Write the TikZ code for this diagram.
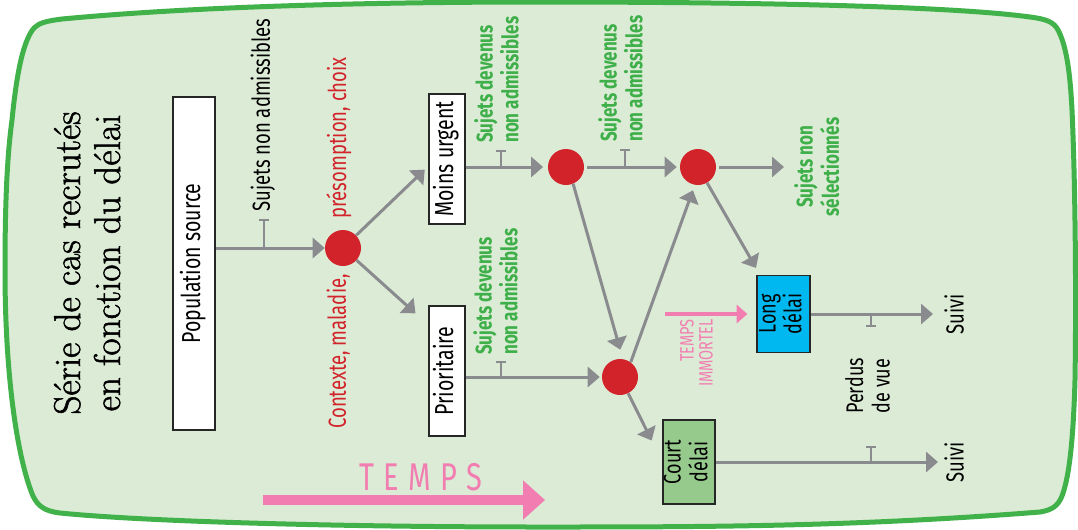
\documentclass[tikz,border=0pt]{standalone}
\usepackage{fontspec}
\usetikzlibrary{arrows.meta}
\newfontfamily\cnd[FakeStretch=0.75]{Fira Sans}
\newfontfamily\ttl[FakeBold=1.4]{Latin Modern Roman}
\definecolor{bgc}{HTML}{DCEBD6}
\definecolor{bordc}{HTML}{41B14A}
\definecolor{grayc}{HTML}{8A8B8F}
\definecolor{redc}{HTML}{D2232A}
\definecolor{greenc}{HTML}{3EAF49}
\definecolor{pinkc}{HTML}{F27DB1}
\definecolor{cyanc}{HTML}{00B8F0}
\definecolor{courtc}{HTML}{96CA8C}
\newcommand{\rotl}[2]{\rotatebox{90}{\begin{tabular}{@{}#1@{}}#2\end{tabular}}}
\tikzset{
  box/.style={draw=black!85, line width=0.9pt, fill=white, inner sep=0pt,
    font=\cnd\fontsize{19.5}{19.5}\selectfont},
  dot/.style={circle, fill=redc, minimum size=27pt, inner sep=0pt},
  arr/.style={draw=grayc, line width=2.25pt, -{Triangle[length=9pt,width=15pt]}},
  tick/.style={draw=grayc, line width=1.8pt, -{Bar[width=7pt]}},
  blbl/.style={inner sep=0pt, text=black, font=\cnd\fontsize{18.5}{18.5}\selectfont},
  rlbl/.style={inner sep=0pt, text=redc, font=\cnd\fontsize{18.5}{18.5}\selectfont},
  glbl/.style={inner sep=0pt, text=greenc, font=\cnd\bfseries\fontsize{17}{18.75}\selectfont},
  inlbl/.style={inner sep=0pt, text=black, font=\cnd\fontsize{18}{17.5}\selectfont},
}
\begin{document}
\begin{tikzpicture}[x=0.75pt,y=-0.75pt]
\useasboundingbox (0,0) rectangle (1078,529);
% frame
\draw[bordc, fill=bgc, line width=3.75pt]
  (12,120) .. controls (16,80) and (22,42) .. (34,28)
  .. controls (39,23) and (46,21) .. (62,19)
  .. controls (200,6) and (380,2) .. (540,2)
  .. controls (750,2) and (950,6) .. (1030,17)
  .. controls (1046,19) and (1054,22) .. (1058,30)
  .. controls (1066,45) and (1070,70) .. (1072,110)
  .. controls (1076,200) and (1076,320) .. (1075,380)
  .. controls (1073,450) and (1068,480) .. (1062,496)
  .. controls (1058,506) and (1052,510) .. (1040,512)
  .. controls (850,527) and (700,527) .. (540,527)
  .. controls (350,527) and (150,522) .. (60,513)
  .. controls (44,511) and (38,506) .. (33,496)
  .. controls (18,460) and (5,380) .. (5,270)
  .. controls (5,190) and (8,150) .. (12,120) -- cycle;
% title
\node[inner sep=0pt, font=\ttl\fontsize{28}{30}\selectfont] (title) at (92,263)
  {\rotl{c}{Série de cas recrutés\\en fonction du délai}};
% boxes
\node[box, minimum width=31.5pt, minimum height=249.75pt] (pop) at (194,263.5) {\rotl{c}{Population source}};
\node[box, minimum width=27pt, minimum height=97.5pt] (moins) at (447,159) {\rotl{c}{Moins urgent}};
\node[box, minimum width=27pt, minimum height=97.5pt] (prio) at (447,371) {\rotl{c}{Prioritaire}};
\node[box, fill=cyanc, minimum width=39.75pt, minimum height=57.75pt, font=\cnd\fontsize{18}{16.5}\selectfont] (long) at (783.5,314) {\rotl{c}{Long\\délai}};
\node[box, fill=courtc, minimum width=39pt, minimum height=63pt, font=\cnd\fontsize{18}{18.5}\selectfont] (court) at (689,462) {\rotl{c}{Court\\délai}};
% decision dots
\node[dot] (c1) at (343,248) {};
\node[dot] (c2) at (566,167) {};
\node[dot] (c3) at (698,167) {};
\node[dot] (c4) at (620,377) {};
% labels
\node[blbl, anchor=south] (sna) at (264,212) {\rotl{l}{Sujets non admissibles}};
\node[rlbl, anchor=south] (ctx) at (340,429) {\rotl{l}{Contexte, maladie,}};
\node[rlbl, anchor=south] (pres) at (340,219) {\rotl{l}{présomption, choix}};
\node[glbl, anchor=south] (g1) at (500,143) {\rotl{l}{Sujets devenus\\non admissibles}};
\node[glbl, anchor=south] (g2) at (624,142) {\rotl{l}{Sujets devenus\\non admissibles}};
\node[glbl, anchor=south] (g3) at (499,355) {\rotl{l}{Sujets devenus\\non admissibles}};
\node[glbl, anchor=west, font=\cnd\bfseries\fontsize{17}{18}\selectfont] (sns) at (794,167) {\rotl{c}{Sujets non\\sélectionnés}};
\node[blbl, anchor=west] (s1) at (944,314) {\rotl{c}{Suivi}};
\node[blbl, anchor=west] (s2) at (944,462) {\rotl{c}{Suivi}};
\node[inlbl, font=\cnd\fontsize{18}{20}\selectfont] (pv) at (871,386) {\rotl{c}{Perdus\\de vue}};
\node[inner sep=0pt, anchor=north, text=pinkc, font=\cnd\fontsize{14.5}{13.5}\selectfont] (ti) at (699,319) {\rotl{r}{TEMPS\\IMMORTEL}};
\node[inner sep=0pt, text=pinkc, font=\cnd\fontsize{29}{29}\selectfont] (temps) at (421,477)
  {T\hspace{7pt}E\hspace{7pt}M\hspace{7pt}P\hspace{7pt}S};
% connectors
\draw[arr] (pop.east |- c1) -- (c1);
\draw[arr, shorten >=3.75pt] (c1) -- (moins.201);
\draw[arr, shorten >=13pt] (c1) -- (prio.112);
\draw[arr, shorten >=3.5pt] (moins.east |- c2) -- (c2);
\draw[arr, shorten >=2.25pt, shorten <=2pt] (c2) -- (c3);
\draw[arr, shorten >=7.5pt, shorten <=2pt] (c3) -- (sns.west);
\draw[arr, shorten >=6pt] (c3) -- (long.121);
\draw[arr, shorten >=7.2pt] (c2.-67.6) -- (c4.81.7);
\draw[arr, shorten >=4.2pt] (c4.54.8) -- (c3.260);
\draw[arr, shorten >=1.5pt] (prio.east |- c4) -- (c4);
\draw[arr, shorten >=18pt] (c4) -- (court.west);
\draw[arr, shorten >=8.25pt] (long.east) -- (s1.west);
\draw[arr, shorten >=4.5pt] (court.east) -- (s2.west);
% losses
\draw[tick] (264,248) -- (264,219);
\draw[tick] (501,167) -- (501,150);
\draw[tick] (625,167) -- (625,149);
\draw[tick] (501,378) -- (501,361);
\draw[tick] (871,314) -- (871,327);
\draw[tick] (871,462) -- (871,446);
% time arrows
\coordinate (tiS) at (665,314);
\draw[pinkc, line width=3pt, -{Triangle[length=8pt,width=13.5pt]}, shorten >=6.75pt] (tiS) -- (long.west);
\coordinate (tA) at (263,500);
\coordinate (tB) at (545,500);
\draw[pinkc, line width=7.5pt, -{Triangle[length=16.5pt,width=28.5pt]}] (tA) -- (tB);
\end{tikzpicture}
\end{document}
